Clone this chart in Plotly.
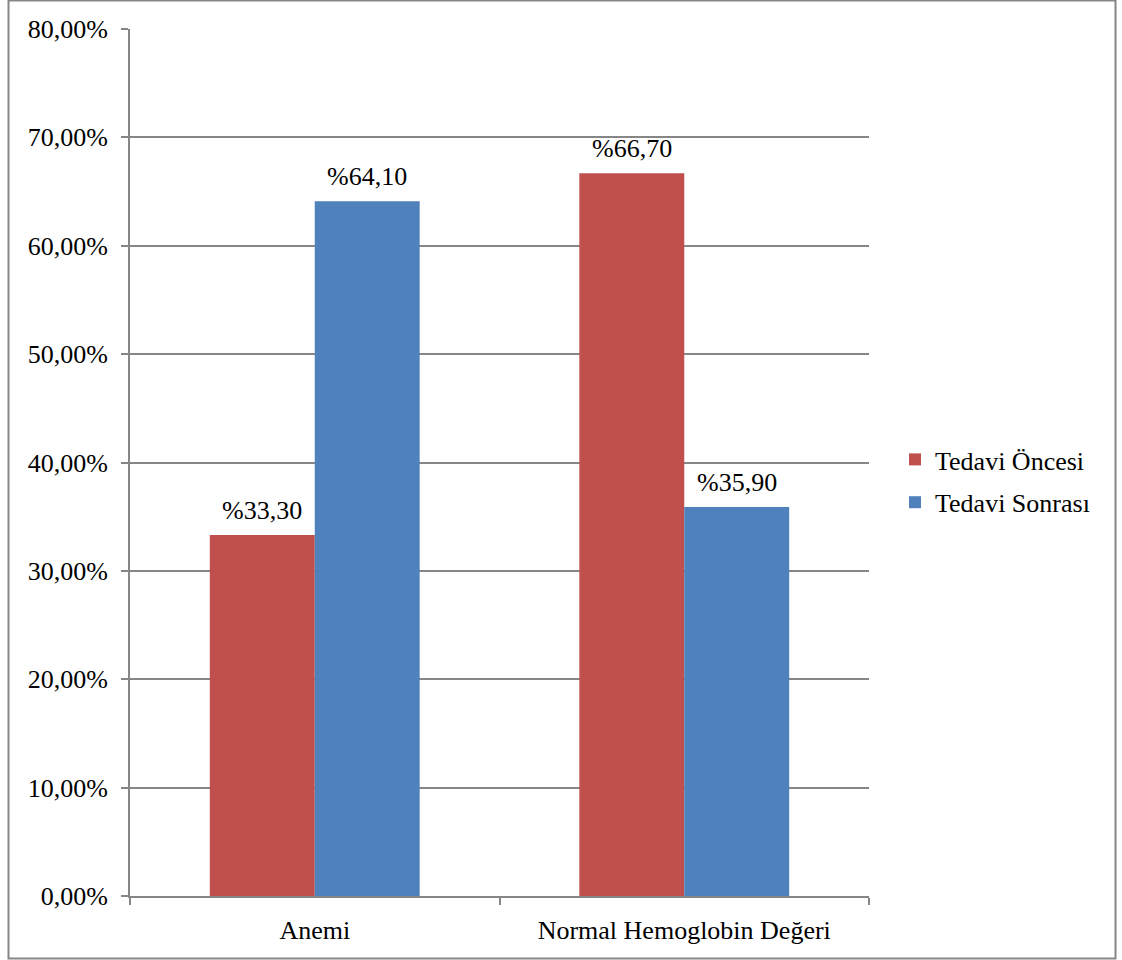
import plotly.graph_objects as go

categories = ["Anemi", "Normal Hemoglobin Değeri"]
series_names = ["Tedavi Öncesi", "Tedavi Sonrası"]
oncesi = [0.333, 0.667]
sonrasi = [0.641, 0.359]
colors = ["#C0504D", "#4F81BD"]
y_ticks = [0, 0.1, 0.2, 0.3, 0.4, 0.5, 0.6, 0.7, 0.8]

FONT = "Liberation Serif"

def lab(v):
    return "%" + f"{v*100:.2f}".replace(".", ",")

fig = go.Figure()
annotations = []
shifts = [-52.5, 52.5]
for i, (name, vals, col) in enumerate(zip(series_names, [oncesi, sonrasi], colors)):
    fig.add_trace(go.Bar(
        x=categories, y=vals, name=name, legendgroup=name,
        marker=dict(color=col, line=dict(width=0)),
    ))
    for c, v in zip(categories, vals):
        annotations.append(dict(
            x=c, y=v, xref="x", yref="y", text=lab(v), showarrow=False,
            xanchor="center", yanchor="bottom", xshift=shifts[i], yshift=8,
            font=dict(family=FONT, size=26, color="black")))

L, R, T, B = 130, 869, 29, 896
W, H = R - L, B - T
def px_x(p):
    return (p - L) / W
def px_y(p):
    return (B - p) / H

fig.update_layout(
    width=1122, height=960,
    margin=dict(l=L, r=1122 - R, t=T, b=960 - B, pad=0),
    paper_bgcolor="white", plot_bgcolor="white",
    separators=",.",
    barmode="group", bargap=0.432, bargroupgap=0,
    font=dict(family=FONT, size=26, color="black"),
    showlegend=True,
    legend=dict(x=px_x(895), y=px_y(481), xanchor="left", yanchor="middle",
                font=dict(family=FONT, size=26, color="black"),
                bgcolor="rgba(0,0,0,0)", tracegroupgap=6),
    xaxis=dict(showgrid=False, showline=True, linecolor="#868686", linewidth=2,
               ticks="outside", tickson="boundaries", ticklen=7, tickcolor="#868686",
               tickwidth=1.5, ticklabelstandoff=10,
               tickfont=dict(family=FONT, size=26, color="black")),
    yaxis=dict(range=[0, 0.8], tickvals=y_ticks, tickformat=".2%",
               showgrid=True, gridcolor="#868686", gridwidth=1.5,
               showline=True, linecolor="#868686", linewidth=2,
               ticks="outside", ticklen=7, tickcolor="#868686", tickwidth=1.5,
               zeroline=False, ticklabelstandoff=8,
               tickfont=dict(family=FONT, size=26, color="black")),
    annotations=annotations,
    shapes=[dict(type="rect", xref="paper", yref="paper",
                 x0=px_x(8.5), x1=px_x(1115.5), y0=px_y(958.5), y1=px_y(0.5),
                 line=dict(color="#868686", width=2), fillcolor="rgba(0,0,0,0)",
                 layer="below")],
)

fig.write_html("out.html")
